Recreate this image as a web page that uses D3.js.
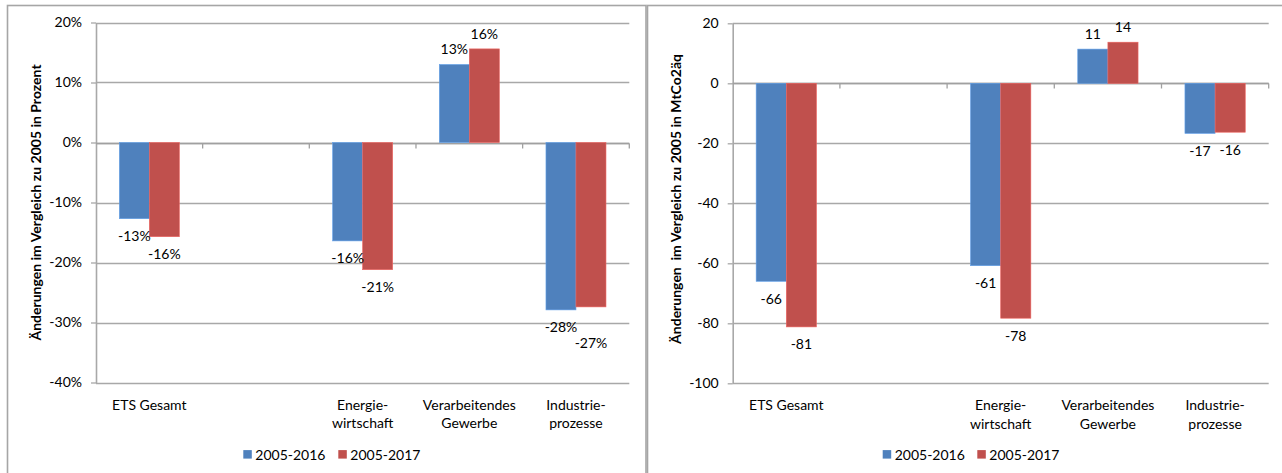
<!DOCTYPE html>
<html>
<head>
<meta charset="utf-8">
<script src="https://cdn.jsdelivr.net/npm/d3@7"></script>
<style>
  html, body { margin: 0; padding: 0; background: #fff; }
  svg { display: block; font-family: Lato, "Open Sans", sans-serif; }
</style>
</head>
<body>
<svg id="chart" width="1282" height="473"></svg>
<script>
// Sector categories (the second slot is an intentionally empty gap)
const categories = ["ETS Gesamt", "", "Energie-\nwirtschaft", "Verarbeitendes\nGewerbe", "Industrie-\nprozesse"];
const seriesNames = ["2005-2016", "2005-2017"];

// Change relative to 2005, percent
const pct2016 = [-12.7, null, -16.4, 13.0, -27.9];
const pct2017 = [-15.7, null, -21.2, 15.6, -27.4];
const pctTicks = [20, 10, 0, -10, -20, -30, -40];

// Change relative to 2005, MtCO2-equivalent
const abs2016 = [-66.0, null, -60.8, 11.4, -16.7];
const abs2017 = [-81.2, null, -78.3, 13.7, -16.3];
const absTicks = [20, 0, -20, -40, -60, -80, -100];

const colors = ["#4F81BD", "#C0504D"];
const gridColor = "#a8a8a8";
const FONT = 14;

const svg = d3.select("#chart");

function drawPanel(cfg) {
  const g = svg.append("g");

  // panel frame
  g.append("rect")
    .attr("x", cfg.frame[0]).attr("y", cfg.frame[1])
    .attr("width", cfg.frame[2]).attr("height", cfg.frame[3])
    .attr("fill", "none").attr("stroke", "#a6a6a6").attr("stroke-width", 1.6);

  const y = d3.scaleLinear().domain(cfg.domain).range([cfg.bottom, cfg.top]);
  const x = d3.scaleBand().domain(d3.range(categories.length))
    .range([cfg.left, cfg.right]).paddingInner(0).paddingOuter(0);
  const groupW = x.bandwidth() * 0.5625;
  const xs = d3.scaleBand().domain(d3.range(seriesNames.length))
    .range([(x.bandwidth() - groupW) / 2, (x.bandwidth() + groupW) / 2]);

  // horizontal gridlines
  g.append("g").selectAll("line").data(cfg.ticks).join("line")
    .attr("x1", cfg.left).attr("x2", cfg.right)
    .attr("y1", d => Math.round(y(d)) + 0.5).attr("y2", d => Math.round(y(d)) + 0.5)
    .attr("stroke", gridColor).attr("stroke-width", 1.3);

  // value axis
  const yAxis = d3.axisLeft(y).tickValues(cfg.ticks).tickFormat(cfg.tickFmt)
    .tickSizeInner(5).tickSizeOuter(0).tickPadding(9);
  const ya = g.append("g").attr("transform", `translate(${cfg.left},0)`).call(yAxis);
  ya.select(".domain").attr("stroke", gridColor).attr("stroke-width", 1.6);
  ya.selectAll(".tick line").attr("stroke", gridColor).attr("stroke-width", 1.3);
  ya.selectAll(".tick text").attr("font-size", FONT).attr("fill", "#000")
    .attr("font-family", "Lato, sans-serif");
  ya.attr("font-family", null);

  // category axis along zero
  const y0 = Math.round(y(0)) + 0.5;
  g.append("line").attr("x1", cfg.left).attr("x2", cfg.right)
    .attr("y1", y0).attr("y2", y0).attr("stroke", "#a0a0a0").attr("stroke-width", 1.6);
  const bounds = d3.range(categories.length + 1).map(i => i < categories.length ? x(i) : cfg.right);
  g.append("g").selectAll("line").data(bounds.slice(1)).join("line")
    .attr("x1", d => d).attr("x2", d => d)
    .attr("y1", y0).attr("y2", y0 + 5)
    .attr("stroke", "#a0a0a0").attr("stroke-width", 1.3);

  // bars
  const rows = categories.map((c, i) => ({ i, vals: cfg.series.map(s => s[i]) }))
    .filter(r => r.vals.every(v => v != null));
  const bars = g.append("g");
  rows.forEach(r => {
    r.vals.forEach((v, s) => {
      bars.append("rect")
        .attr("x", x(r.i) + xs(s))
        .attr("width", xs.bandwidth())
        .attr("y", Math.min(y(v), y(0)))
        .attr("height", Math.abs(y(v) - y(0)))
        .attr("fill", colors[s])
        .attr("stroke", d3.color(colors[s]).brighter(0.6))
        .attr("stroke-width", 0.6);
    });
  });

  // data labels, pushed down a line if they collide with their neighbour
  const labels = g.append("g").attr("font-size", FONT).attr("fill", "#000");
  rows.forEach(r => {
    const placed = [];
    r.vals.forEach((v, s) => {
      const cx = x(r.i) + xs(s) + xs.bandwidth() / 2;
      let cy = v < 0 ? y(v) + 17 : y(v) - 15.7;
      const t = labels.append("text").attr("x", cx).attr("y", cy)
        .attr("text-anchor", "middle").attr("dominant-baseline", "central")
        .text(cfg.labelFmt(v));
      const w = t.node().getComputedTextLength();
      placed.forEach(p => {
        const overlapX = Math.abs(p.cx - cx) < (p.w + w) / 2;
        const overlapY = Math.abs(p.cy - cy) < 15;
        if (overlapX && overlapY) {
          cy = v < 0 ? p.cy + 15.7 : p.cy - 15.7;
          t.attr("y", cy);
        }
      });
      placed.push({ cx, cy, w });
    });
  });

  // category labels
  const cat = g.append("g").attr("font-size", FONT).attr("fill", "#000");
  categories.forEach((c, i) => {
    if (!c) return;
    const t = cat.append("text").attr("text-anchor", "middle")
      .attr("x", x(i) + x.bandwidth() / 2).attr("y", cfg.bottom + 21)
      .attr("dominant-baseline", "central");
    c.split("\n").forEach((line, k) => {
      t.append("tspan").attr("x", x(i) + x.bandwidth() / 2)
        .attr("dy", k === 0 ? 0 : 18.3).text(line);
    });
  });

  // axis title
  g.append("text")
    .attr("transform", `translate(${cfg.titleX},${cfg.titleY}) rotate(-90)`)
    .attr("text-anchor", "middle").attr("dominant-baseline", "central")
    .attr("font-size", FONT).attr("font-weight", "bold").attr("fill", "#000")
    .style("white-space", "pre")
    .text(cfg.title);

  // legend
  const lg = g.append("g").attr("font-size", FONT).attr("fill", "#000");
  seriesNames.forEach((name, s) => {
    const lx = cfg.legendX[s];
    lg.append("rect").attr("x", lx).attr("y", cfg.legendY - 4.2)
      .attr("width", 8.5).attr("height", 8.5).attr("fill", colors[s]);
    lg.append("text").attr("x", lx + 12).attr("y", cfg.legendY)
      .attr("dominant-baseline", "central").text(name);
  });
}

drawPanel({
  frame: [7.5, 5.5, 638.5, 480],
  left: 96, right: 629.3, top: 22.5, bottom: 382.5,
  domain: [-40, 20], ticks: pctTicks,
  tickFmt: d => `${d}%`,
  labelFmt: v => `${Math.round(v)}%`,
  series: [pct2016, pct2017],
  title: "Änderungen im Vergleich zu 2005 in Prozent",
  titleX: 35, titleY: 202.5,
  legendX: [243.3, 338.3], legendY: 454.3
});

drawPanel({
  frame: [647.5, 5.5, 660, 480],
  left: 732.7, right: 1268.7, top: 23.3, bottom: 383.3,
  domain: [-100, 20], ticks: absTicks,
  tickFmt: d => `${d}`,
  labelFmt: v => `${Math.round(v)}`,
  series: [abs2016, abs2017],
  title: "Änderungen  im Vergleich zu 2005 in MtCo2äq",
  titleX: 675, titleY: 199,
  legendX: [882.7, 977.3], legendY: 454.3
});
</script>
</body>
</html>
